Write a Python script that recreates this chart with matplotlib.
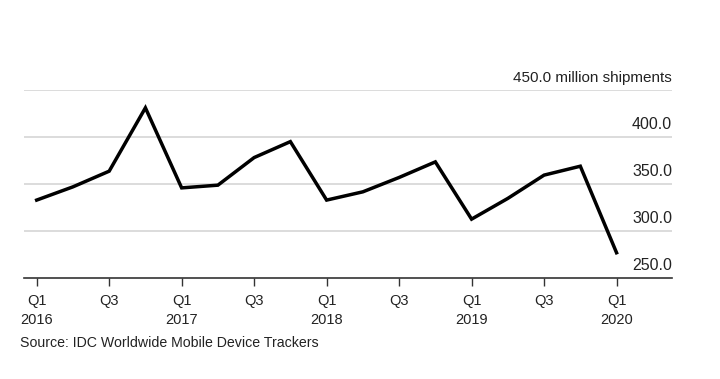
import matplotlib.pyplot as plt

quarters = ['Q1', 'Q2', 'Q3', 'Q4'] * 4 + ['Q1']
years = [2016] * 4 + [2017] * 4 + [2018] * 4 + [2019] * 4 + [2020]
shipments = [332.7, 346.8, 363.5, 431.0, 345.7, 348.6, 378.0, 395.0,
             332.7, 341.5, 356.8, 373.4, 312.4, 334.5, 359.3, 368.8, 276.6]
y_levels = [250, 300, 350, 400, 450]

plt.rcParams['font.family'] = ['Liberation Sans', 'DejaVu Sans']

fig = plt.figure(figsize=(7.2, 3.79), dpi=100)
ax = fig.add_axes([24 / 720, 1 - 277.7 / 379, (672 - 24) / 720, (277.7 - 90) / 379])

x = list(range(len(shipments)))
ax.plot(x, shipments, color='black', linewidth=2.5, solid_joinstyle='miter', zorder=3)

for v in y_levels[1:]:
    ax.axhline(v, color='#dcdcdc', linewidth=1.4, zorder=1)
for v in y_levels:
    label = '%.1f' % v
    if v == y_levels[-1]:
        label += ' million shipments'
        size = 11
    else:
        size = 11.5
    ax.text(1.0, v + 5, label, transform=ax.get_yaxis_transform(),
            ha='right', va='bottom', fontsize=size, color='#222222')

ax.set_xlim(-0.35, 17.53)
ax.set_ylim(250, 450)
ax.set_yticks([])

ticks = x[::2]
labels = []
for i in ticks:
    if quarters[i] == 'Q1':
        labels.append('%s\n%d' % (quarters[i], years[i]))
    else:
        labels.append(quarters[i])
ax.set_xticks(ticks)
ax.set_xticklabels(labels, fontsize=10.5, color='#222222', linespacing=1.45)
ax.tick_params(axis='x', length=6, width=1, color='#333333', pad=6)

for s in ['top', 'right', 'left']:
    ax.spines[s].set_visible(False)
ax.spines['bottom'].set_color('#333333')
ax.spines['bottom'].set_linewidth(1.2)

fig.text(20 / 720, 1 - 343 / 379, 'Source: IDC Worldwide Mobile Device Trackers',
         ha='left', va='center', fontsize=10.2, color='#222222')

fig.savefig('out.png', dpi=100, facecolor='white')
